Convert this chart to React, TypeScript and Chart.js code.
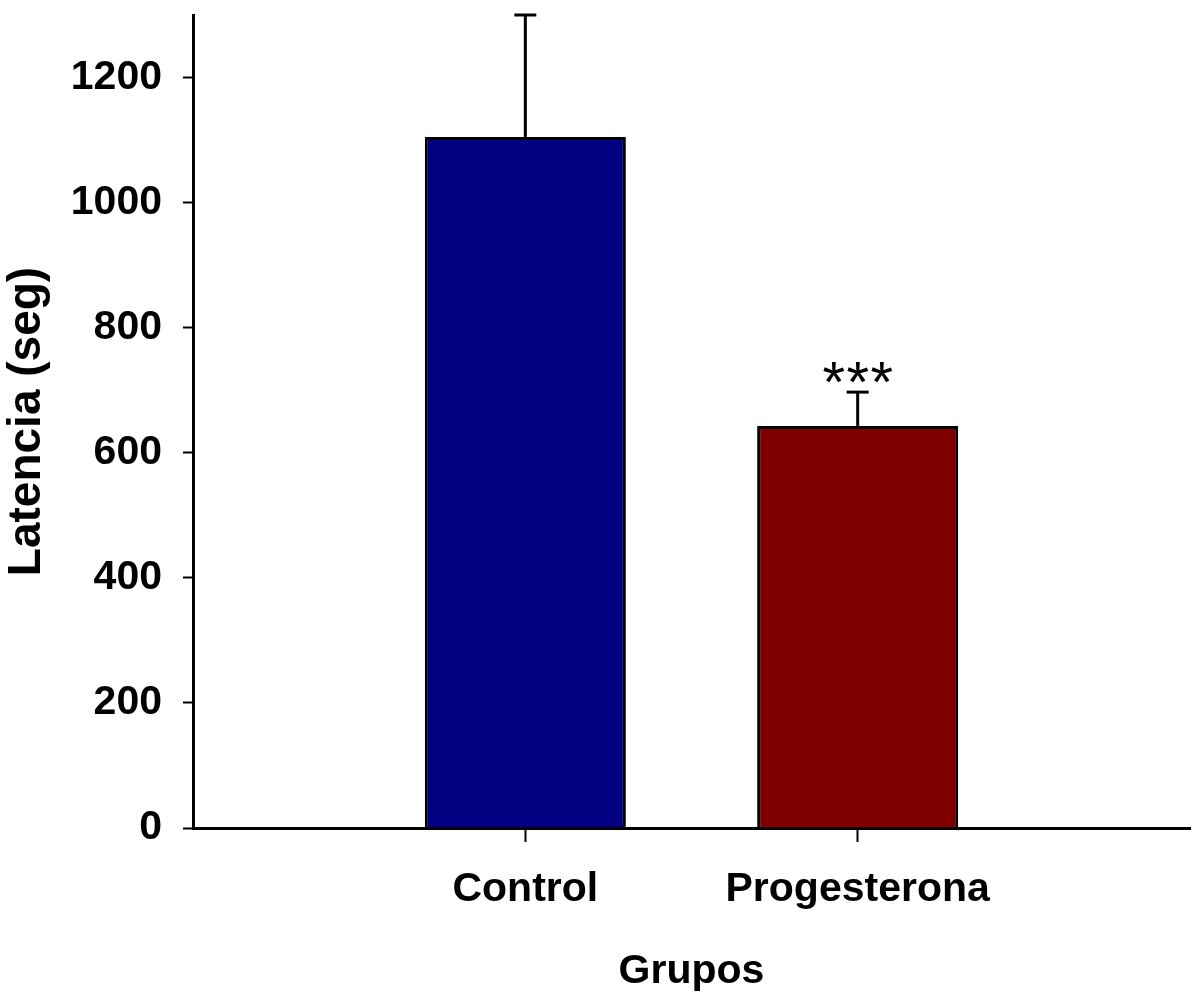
import React, { useEffect, useRef } from 'react';
import { Chart, registerables } from 'chart.js';

Chart.register(...registerables);

const categories = ['', 'Control', 'Progesterona', ''];
const means: (number | null)[] = [null, 1105, 643, null];
const errors: (number | null)[] = [null, 195, 54, null];
const barColors = ['#000080', '#000080', '#800000', '#800000'];
const significance = ['', '', '***', ''];
const yTickValues = [0, 200, 400, 600, 800, 1000, 1200];
const yMin = 0;
const yMax = 1300;
const yTitle = 'Latencia (seg)';
const xTitle = 'Grupos';

const FONT = '"Liberation Sans", Arial, Helvetica, sans-serif';

const errorBarPlugin = {
  id: 'errorBars',
  afterDatasetsDraw(chart: any) {
    const ctx = chart.ctx;
    const meta = chart.getDatasetMeta(0);
    const yScale = chart.scales.y;
    ctx.save();
    ctx.strokeStyle = '#000';
    ctx.lineWidth = 3;
    ctx.lineCap = 'butt';
    meta.data.forEach((bar: any, i: number) => {
      const m = means[i];
      const e = errors[i];
      if (m == null || e == null) return;
      const x = bar.x;
      const yb = yScale.getPixelForValue(m);
      const yt = yScale.getPixelForValue(m + e);
      ctx.beginPath();
      ctx.moveTo(x, yb);
      ctx.lineTo(x, yt);
      ctx.stroke();
      ctx.beginPath();
      ctx.moveTo(x - 11, yt);
      ctx.lineTo(x + 11, yt);
      ctx.stroke();
      const s = significance[i];
      if (s) {
        ctx.font = `normal 58px ${FONT}`;
        ctx.fillStyle = '#000';
        ctx.textAlign = 'center';
        ctx.textBaseline = 'alphabetic';
        const chars = s.split('');
        const mt = ctx.measureText(chars[0]);
        const centerY = yt - 20;
        const baseY = centerY + (mt.actualBoundingBoxAscent - mt.actualBoundingBoxDescent) / 2;
        const pitch = 24;
        chars.forEach((ch, k) => {
          const cx = x + (k - (chars.length - 1) / 2) * pitch;
          ctx.fillText(ch, cx, baseY);
        });
      }
    });
    ctx.restore();
  },
};

export default function App() {
  const canvasRef = useRef<HTMLCanvasElement | null>(null);

  useEffect(() => {
    const canvas = canvasRef.current;
    if (!canvas) return;
    const chart = new Chart(canvas, {
      type: 'bar',
      data: {
        labels: categories,
        datasets: [
          {
            data: means as any,
            backgroundColor: barColors,
            borderColor: '#000',
            borderWidth: 3,
            barPercentage: 0.605,
            categoryPercentage: 1,
          },
        ],
      },
      options: {
        responsive: false,
        animation: false,
        layout: { padding: { top: 15, right: 5, left: 0, bottom: 0 } },
        plugins: {
          legend: { display: false },
          tooltip: { enabled: false },
        },
        scales: {
          x: {
            type: 'category',
            offset: false,
            afterFit: (s: any) => {
              s.height = 166;
              s.paddingLeft = 0;
              s.paddingRight = 0;
              s.paddingTop = 0;
              s.paddingBottom = 0;
            },
            border: { display: true, color: '#000', width: 3 },
            grid: {
              offset: false,
              drawOnChartArea: false,
              drawTicks: true,
              tickLength: 14,
              tickWidth: 2,
              color: '#000',
              tickColor: (c: any) => (categories[c.index] ? '#000' : 'rgba(0,0,0,0)'),
            },
            ticks: {
              color: '#000',
              font: { family: FONT, size: 41, weight: 'bold' },
              padding: 23,
              maxRotation: 0,
              autoSkip: false,
            },
            title: {
              display: true,
              text: xTitle,
              color: '#000',
              font: { family: FONT, size: 41, weight: 'bold', lineHeight: 1.1 },
              padding: { top: 0, bottom: 0 },
            },
          },
          y: {
            min: yMin,
            max: yMax,
            afterBuildTicks: (s: any) => {
              s.ticks = yTickValues.map((v) => ({ value: v }));
            },
            afterFit: (s: any) => {
              s.width = 193;
              s.paddingLeft = 0;
              s.paddingRight = 0;
              s.paddingTop = 0;
              s.paddingBottom = 0;
            },
            border: { display: true, color: '#000', width: 3 },
            grid: {
              drawOnChartArea: false,
              drawTicks: true,
              tickLength: 10,
              tickWidth: 2,
              color: '#000',
              tickColor: '#000',
            },
            ticks: {
              color: '#000',
              font: { family: FONT, size: 41, weight: 'bold' },
              padding: 21,
              callback: (v: any) => String(v),
            },
            title: {
              display: true,
              text: yTitle,
              color: '#000',
              font: { family: FONT, size: 46, weight: 'bold', lineHeight: 1.2 },
              padding: { top: 0, bottom: 0 },
            },
          },
        },
      } as any,
      plugins: [errorBarPlugin],
    });
    return () => chart.destroy();
  }, []);

  return (
    <div style={{ position: 'absolute', left: 0, top: 0, width: 1195, height: 994, background: '#fff' }}>
      <canvas ref={canvasRef} width={1195} height={994} style={{ display: 'block' }} />
    </div>
  );
}
